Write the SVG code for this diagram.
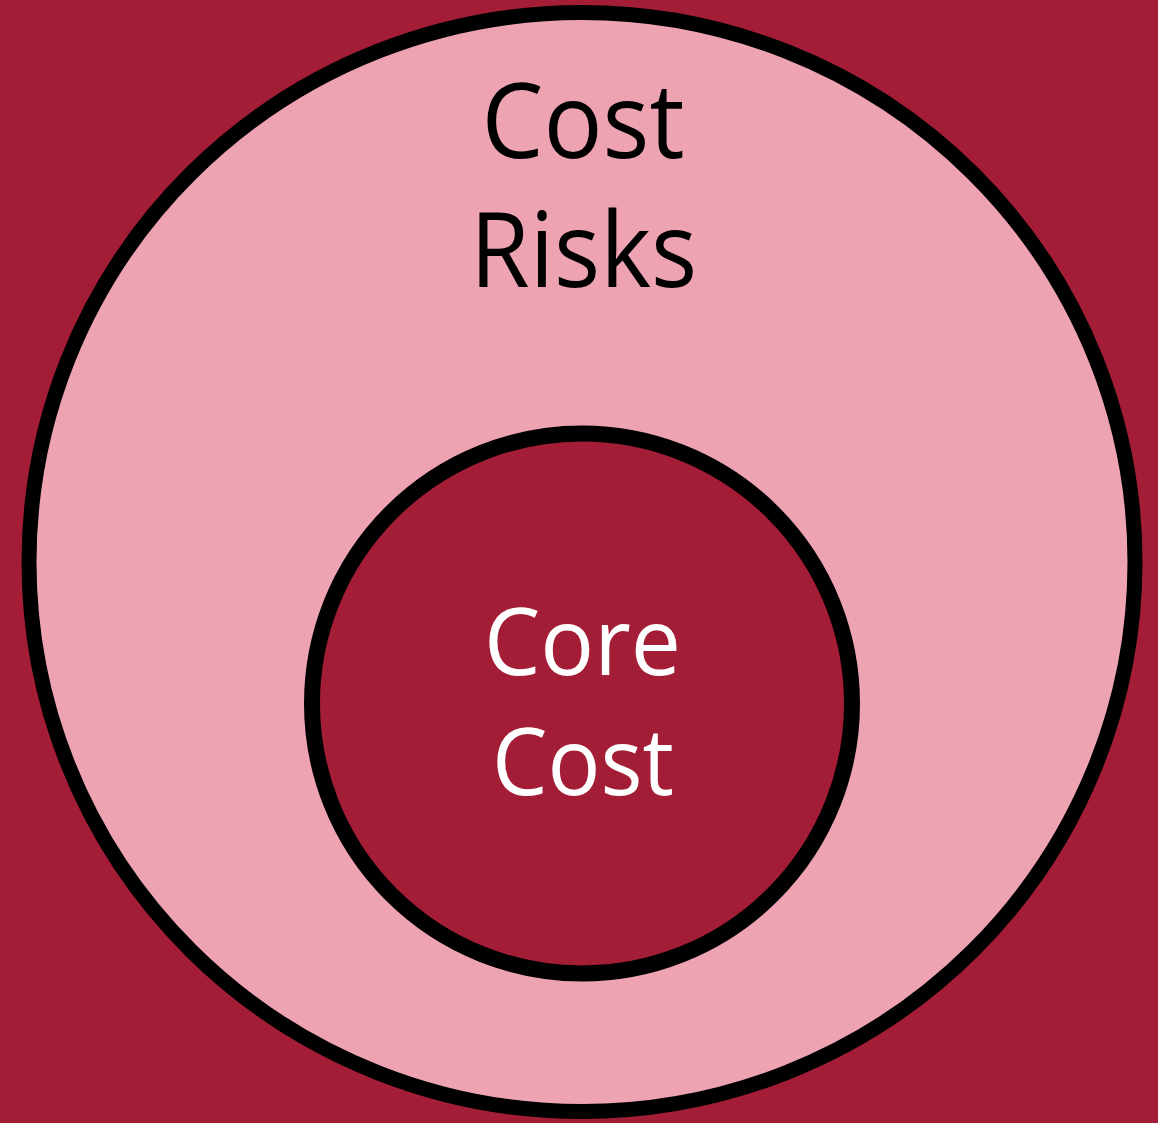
<svg xmlns="http://www.w3.org/2000/svg" width="1158" height="1123" viewBox="0 0 1158 1123">
  <style>
    .lbl { font-family: "Open Sans", "Liberation Sans", sans-serif; text-anchor: middle; }
    .dark { fill: #000000; font-size: 105px; }
    .light { fill: #FFFFFF; font-size: 94px; }
  </style>
  <rect x="0" y="0" width="1158" height="1123" fill="#A31D36"/>
  <g id="cost-risks">
    <ellipse cx="582" cy="562" rx="553" ry="549.5" fill="#EDA3B1" stroke="#000000" stroke-width="15"/>
    <text class="lbl dark" x="583" y="158" textLength="203" lengthAdjust="spacingAndGlyphs">Cost</text>
    <text class="lbl dark" x="583.5" y="287" textLength="227" lengthAdjust="spacingAndGlyphs">Risks</text>
  </g>
  <g id="core-cost">
    <circle cx="582" cy="703.5" r="270" fill="#A31D36" stroke="#000000" stroke-width="16"/>
    <text class="lbl light" x="582.5" y="675" textLength="197" lengthAdjust="spacingAndGlyphs">Core</text>
    <text class="lbl light" x="583" y="795" textLength="182" lengthAdjust="spacingAndGlyphs">Cost</text>
  </g>
  <g id="connectors"/>
</svg>
